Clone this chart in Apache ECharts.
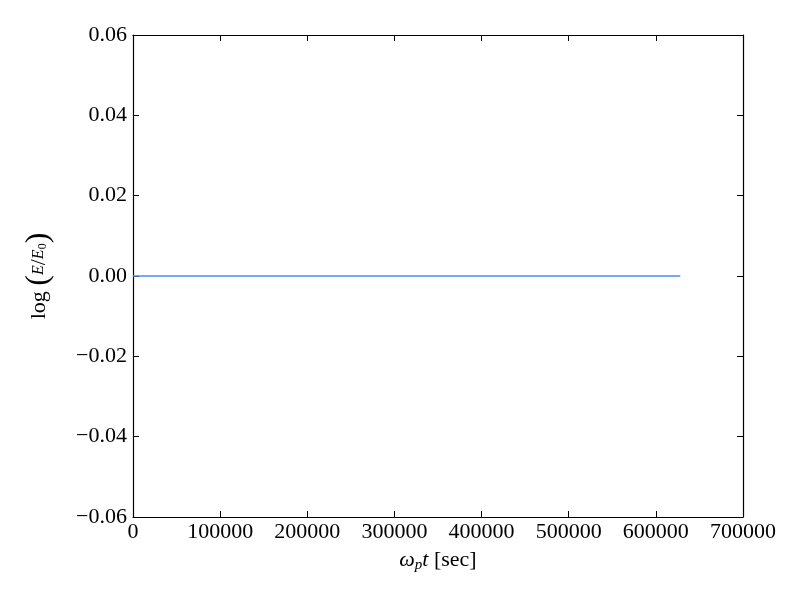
<!DOCTYPE html>
<html>
<head>
<meta charset="utf-8">
<script src="https://cdn.jsdelivr.net/npm/echarts@6/dist/echarts.min.js"></script>
<style>html,body{margin:0;padding:0;background:#fff}#c{width:800px;height:600px}</style>
</head>
<body>
<div id="c"></div>
<script>
const timeValues = [0, 628000];
const energyLog = [0, 0];
const xTicks = [0, 700000, 100000];
const yTicks = [-0.06, 0.06, 0.02];

const FONT = '"Liberation Serif", "DejaVu Serif", serif';
const chart = echarts.init(document.getElementById('c'), null, {renderer: 'canvas'});
const fmtY = v => { let s = v.toFixed(2); if (s === '-0.00') s = '0.00'; return s.replace('-', '\u2212'); };
const fmtX = v => String(Math.round(v));
const axisLineStyle = {color: '#000', width: 1.2};
const baseX = {
  type: 'value', min: xTicks[0], max: xTicks[1], interval: xTicks[2],
  axisLine: {show: true, onZero: false, lineStyle: axisLineStyle},
  axisTick: {show: true, inside: true, length: 6, lineStyle: {color: '#000'}},
  splitLine: {show: false}
};
const baseY = {
  type: 'value', min: yTicks[0], max: yTicks[1], interval: yTicks[2],
  axisLine: {show: true, onZero: false, lineStyle: axisLineStyle},
  axisTick: {show: true, inside: true, length: 6, lineStyle: {color: '#000'}},
  splitLine: {show: false}
};
chart.setOption({
  animation: false,
  backgroundColor: '#fff',
  grid: {left: 133, right: 57, top: 35, bottom: 83, containLabel: false},
  xAxis: [
    Object.assign({}, baseX, {
      position: 'bottom',
      axisLabel: {color: '#000', fontFamily: FONT, fontSize: 22, margin: 4, formatter: fmtX},
      name: '{i|\u03C9}{s|p}{i|t} [sec]', nameLocation: 'middle', nameGap: 31,
      nameTextStyle: {color: '#000', fontFamily: FONT, fontSize: 22,
        rich: {i: {fontStyle: 'italic', fontFamily: FONT, fontSize: 22, color: '#000'},
               s: {fontStyle: 'italic', fontFamily: FONT, fontSize: 15, color: '#000', padding: [10, 0, 0, 0]}}}
    }),
    Object.assign({}, baseX, {position: 'top', axisLabel: {show: false}})
  ],
  yAxis: [
    Object.assign({}, baseY, {
      position: 'left',
      axisLabel: {color: '#000', fontFamily: FONT, fontSize: 22, margin: 6, formatter: fmtY},
      name: 'log {p|(}{i|E}/{i|E}{s|0}{p|)}', nameLocation: 'middle', nameGap: 78, nameRotate: 90,
      nameTextStyle: {color: '#000', fontFamily: FONT, fontSize: 22,
        rich: {i: {fontStyle: 'italic', fontFamily: FONT, fontSize: 16, color: '#000'},
               s: {fontFamily: FONT, fontSize: 12, color: '#000', padding: [8, 0, 0, 0]},
               p: {fontFamily: FONT, fontSize: 32, color: '#000'}}}
    }),
    Object.assign({}, baseY, {position: 'right', axisLabel: {show: false}})
  ],
  series: [{
    type: 'line', xAxisIndex: 0, yAxisIndex: 0,
    data: timeValues.map((t, i) => [t, energyLog[i]]),
    showSymbol: false, symbol: 'none',
    lineStyle: {color: '#4a8cf5', width: 1.5}
  }]
});
</script>
</body>
</html>
